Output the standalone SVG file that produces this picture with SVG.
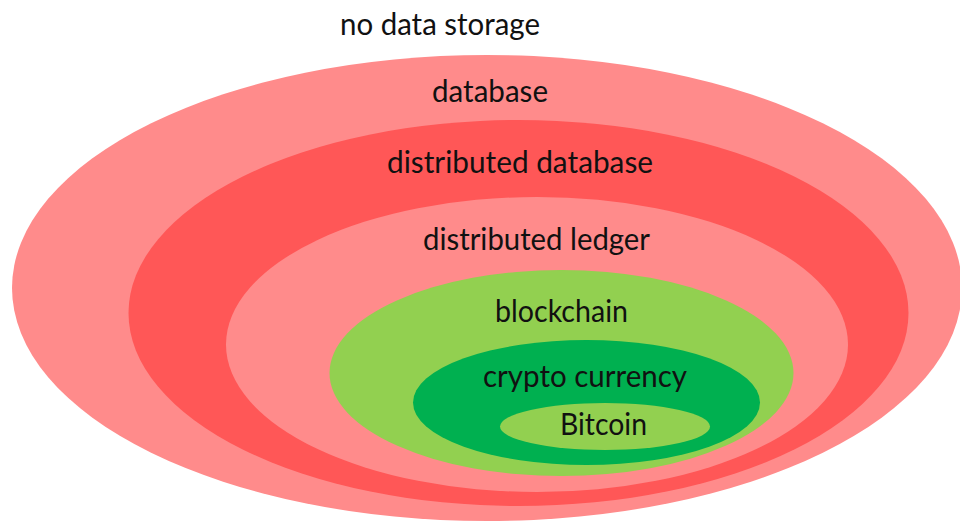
<svg xmlns="http://www.w3.org/2000/svg" width="960" height="523" viewBox="0 0 960 523">
<style>
.lbl{font-family:Lato,"Open Sans","Liberation Sans",sans-serif;font-size:30px;fill:#111}
.pink{fill:#FF8B8B}
.red{fill:#FF5757}
.lg{fill:#92D050}
.dg{fill:#00B050}
</style>
<rect width="960" height="523" fill="#fff"/>
<g id="no-data-storage"><text class="lbl" x="340" y="35" textLength="200" lengthAdjust="spacingAndGlyphs">no data storage</text></g>
<g id="database"><ellipse class="pink" cx="487" cy="288" rx="475" ry="233"/><text class="lbl" x="432" y="102" textLength="116" lengthAdjust="spacingAndGlyphs">database</text></g>
<g id="distributed-database"><ellipse class="red" cx="518.5" cy="313" rx="390" ry="193"/><text class="lbl" x="387" y="173" textLength="266" lengthAdjust="spacingAndGlyphs">distributed database</text></g>
<g id="distributed-ledger"><ellipse class="pink" cx="537" cy="344.5" rx="311" ry="147.5"/><text class="lbl" x="423" y="250" textLength="227" lengthAdjust="spacingAndGlyphs">distributed ledger</text></g>
<g id="blockchain"><ellipse class="lg" cx="561.5" cy="373" rx="232" ry="103"/><text class="lbl" x="495" y="322" textLength="133" lengthAdjust="spacingAndGlyphs">blockchain</text></g>
<g id="crypto-currency"><ellipse class="dg" cx="586.5" cy="402.5" rx="173.5" ry="62.5"/><text class="lbl" x="483" y="387" textLength="204" lengthAdjust="spacingAndGlyphs">crypto currency</text></g>
<g id="bitcoin"><ellipse class="lg" cx="605" cy="426.5" rx="105" ry="23.5"/><text class="lbl" x="560" y="435" textLength="87" lengthAdjust="spacingAndGlyphs">Bitcoin</text></g>
<g id="connectors"/>
</svg>
